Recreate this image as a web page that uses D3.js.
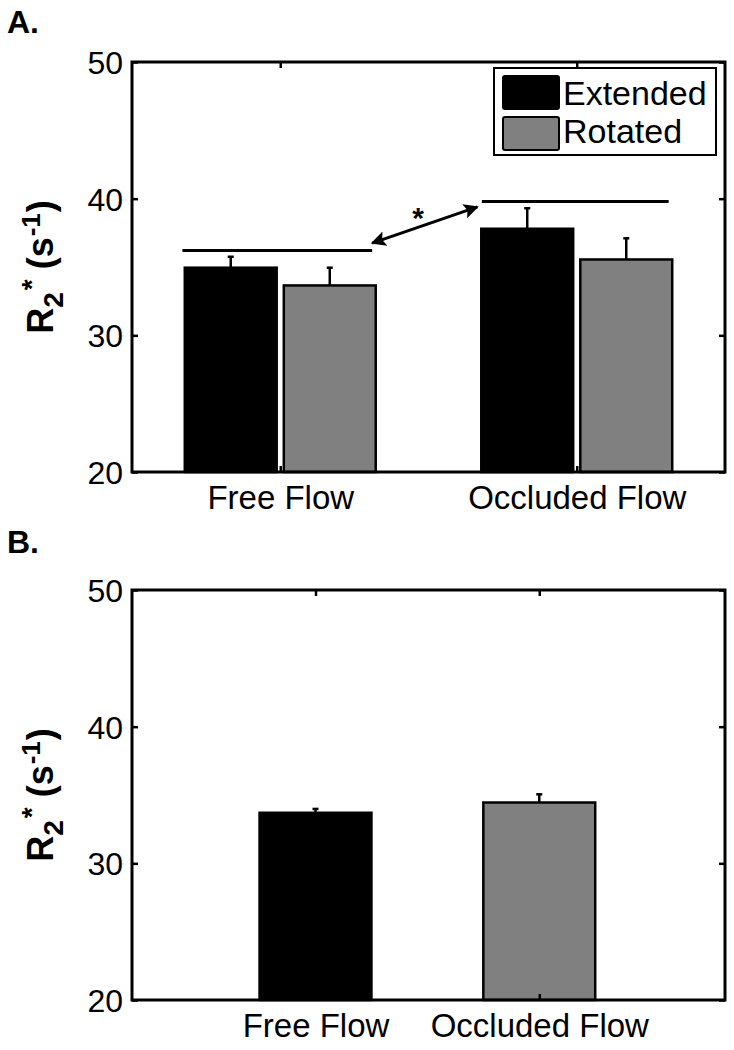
<!DOCTYPE html>
<html>
<head>
<meta charset="utf-8">
<script src="https://cdn.jsdelivr.net/npm/d3@7"></script>
<style>
  body { margin: 0; background: #fff; }
  svg text { font-family: "Liberation Sans", Arial, Helvetica, sans-serif; fill: #000; }
</style>
</head>
<body>
<div id="chart"></div>
<script>
/* ---------- data ---------- */
const groups = ["Free Flow", "Occluded Flow"];
const seriesNames = ["Extended", "Rotated"];
const seriesColors = ["#000000", "#808080"];

// panel A : mean R2* and upper error, per group
const extendedMean = [34.95, 37.8];
const extendedErr = [0.8, 1.5];
const rotatedMean = [33.65, 35.55];
const rotatedErr = [1.3, 1.55];

// panel B : one bar per group
const pooledMean = [33.7, 34.45];
const pooledErr = [0.28, 0.6];

// significance annotation (data units)
const sigLines = [
  { x0: 0.67, x1: 1.31, y: 36.2 },
  { x0: 1.68, x1: 2.31, y: 39.8 }
];
const sigArrow = { x0: 1.31, y0: 36.75, x1: 1.665, y1: 39.4 };
const sigStar = { x: 1.465, y: 38.9, text: "*" };

const yTicks = [20, 30, 40, 50];

/* ---------- layout ---------- */
const W = 734, H = 1050;
const plotLeft = 132, plotRight = 725;

const svg = d3.select("#chart").append("svg")
  .attr("width", W).attr("height", H);

// arrow head
svg.append("defs").append("marker")
  .attr("id", "head")
  .attr("viewBox", "0 0 10 10")
  .attr("refX", 9).attr("refY", 5)
  .attr("markerWidth", 6).attr("markerHeight", 5)
  .attr("markerUnits", "strokeWidth")
  .attr("orient", "auto-start-reverse")
  .append("path")
  .attr("d", "M0,0 L10,5 L0,10 L2,5 Z")
  .attr("fill", "#000");

function drawFrame(g, x, y, top, bottom, label, labelY, groupTicks) {
  // tick labels on the left
  g.append("g")
    .attr("transform", `translate(${plotLeft},0)`)
    .call(d3.axisLeft(y).tickValues(yTicks).tickSize(-6).tickPadding(9))
    .call(a => a.select(".domain").remove())
    .call(a => a.selectAll("line").attr("stroke", "#000").attr("stroke-width", 2.5))
    .call(a => a.selectAll("text").attr("font-size", 32).attr("dy", "0.36em"));

  g.append("g")
    .attr("transform", `translate(${plotRight},0)`)
    .call(d3.axisRight(y).tickValues(yTicks).tickSize(-6).tickFormat(""))
    .call(a => a.select(".domain").remove())
    .call(a => a.selectAll("line").attr("stroke", "#000").attr("stroke-width", 2.5));

  g.append("g")
    .attr("transform", `translate(0,${bottom})`)
    .call(d3.axisBottom(x).tickValues(groupTicks).tickSize(-6).tickPadding(14)
      .tickFormat((d, i) => groups[i]))
    .call(a => a.select(".domain").remove())
    .call(a => a.selectAll("line").attr("stroke", "#000").attr("stroke-width", 2.5))
    .call(a => a.selectAll("text").attr("font-size", 33).attr("dy", "0.71em"));

  g.append("g")
    .attr("transform", `translate(0,${top})`)
    .call(d3.axisTop(x).tickValues(groupTicks).tickSize(-6).tickFormat(""))
    .call(a => a.select(".domain").remove())
    .call(a => a.selectAll("line").attr("stroke", "#000").attr("stroke-width", 2.5));

  // box
  g.append("rect")
    .attr("x", plotLeft).attr("y", top)
    .attr("width", plotRight - plotLeft).attr("height", bottom - top)
    .attr("fill", "none").attr("stroke", "#000").attr("stroke-width", 3);

  // y label: R2* (s-1)
  const yl = g.append("text")
    .attr("transform", `translate(53,${(top + bottom) / 2}) rotate(-90)`)
    .attr("text-anchor", "middle")
    .attr("font-size", 36).attr("font-weight", "bold");
  yl.append("tspan").text("R");
  yl.append("tspan").attr("font-size", 28).attr("dy", 10).text("2");
  yl.append("tspan").attr("font-size", 28).attr("dy", -22).attr("dx", 2).text("*");
  yl.append("tspan").attr("dy", 12).text(" (s");
  yl.append("tspan").attr("font-size", 26).attr("dy", -13).attr("dx", 1).text("-1");
  yl.append("tspan").attr("dy", 13).attr("dx", 1).text(")");

  // panel letter
  g.append("text")
    .attr("x", 7).attr("y", labelY)
    .attr("font-size", 32).attr("font-weight", "bold")
    .text(label);
}

function drawBars(g, x, y, centers, means, errs, color, width) {
  const bw = x(width) - x(0);
  g.selectAll(null).data(means).enter().append("rect")
    .attr("x", (d, i) => x(centers[i]) - bw / 2)
    .attr("y", d => y(d))
    .attr("width", bw)
    .attr("height", d => y(20) - y(d))
    .attr("fill", color)
    .attr("stroke", "#000").attr("stroke-width", 2.5);

  // upper half of the error bars
  g.selectAll(null).data(means).enter().append("line")
    .attr("x1", (d, i) => x(centers[i])).attr("x2", (d, i) => x(centers[i]))
    .attr("y1", d => y(d)).attr("y2", (d, i) => y(d + errs[i]))
    .attr("stroke", "#000").attr("stroke-width", 2.5);
  g.selectAll(null).data(means).enter().append("line")
    .attr("x1", (d, i) => x(centers[i]) - 3).attr("x2", (d, i) => x(centers[i]) + 3)
    .attr("y1", (d, i) => y(d + errs[i])).attr("y2", (d, i) => y(d + errs[i]))
    .attr("stroke", "#000").attr("stroke-width", 2.5);
}

/* ---------- panel A ---------- */
const topA = 62, bottomA = 472;
const xA = d3.scaleLinear().domain([0.5, 2.5]).range([plotLeft, plotRight]);
const yA = d3.scaleLinear().domain([20, 50]).range([bottomA, topA]);
const gA = svg.append("g");
const offset = 0.167, barWA = 0.31;

drawBars(gA, xA, yA, [1 - offset, 2 - offset], extendedMean, extendedErr, seriesColors[0], barWA);
drawBars(gA, xA, yA, [1 + offset, 2 + offset], rotatedMean, rotatedErr, seriesColors[1], barWA);

gA.selectAll(null).data(sigLines).enter().append("line")
  .attr("x1", d => xA(d.x0)).attr("x2", d => xA(d.x1))
  .attr("y1", d => yA(d.y)).attr("y2", d => yA(d.y))
  .attr("stroke", "#000").attr("stroke-width", 3);

gA.append("line")
  .attr("x1", xA(sigArrow.x0)).attr("y1", yA(sigArrow.y0))
  .attr("x2", xA(sigArrow.x1)).attr("y2", yA(sigArrow.y1))
  .attr("stroke", "#000").attr("stroke-width", 3)
  .attr("marker-start", "url(#head)").attr("marker-end", "url(#head)");

gA.append("text")
  .attr("x", xA(sigStar.x)).attr("y", yA(sigStar.y) + 14)
  .attr("text-anchor", "middle")
  .attr("font-size", 30).attr("font-weight", "bold")
  .text(sigStar.text);

drawFrame(gA, xA, yA, topA, bottomA, "A.", 33, [1, 2]);

// legend
const leg = gA.append("g");
leg.append("rect")
  .attr("x", 494).attr("y", 68).attr("width", 222).attr("height", 87)
  .attr("fill", "#fff").attr("stroke", "#000").attr("stroke-width", 2);
seriesNames.forEach((name, i) => {
  leg.append("rect")
    .attr("x", 503).attr("y", 76 + i * 41).attr("width", 56).attr("height", 33)
    .attr("rx", 2)
    .attr("fill", seriesColors[i]).attr("stroke", "#000").attr("stroke-width", 2);
  leg.append("text")
    .attr("x", 563).attr("y", 105 + i * 38)
    .attr("font-size", 34)
    .text(name);
});

/* ---------- panel B ---------- */
const topB = 590, bottomB = 1000;
const xB = d3.scaleLinear().domain([0.18, 2.83]).range([plotLeft, plotRight]);
const yB = d3.scaleLinear().domain([20, 50]).range([bottomB, topB]);
const gB = svg.append("g");

drawBars(gB, xB, yB, [1], [pooledMean[0]], [pooledErr[0]], seriesColors[0], 0.5);
drawBars(gB, xB, yB, [2], [pooledMean[1]], [pooledErr[1]], seriesColors[1], 0.5);

drawFrame(gB, xB, yB, topB, bottomB, "B.", 553, [1, 2]);
</script>
</body>
</html>
